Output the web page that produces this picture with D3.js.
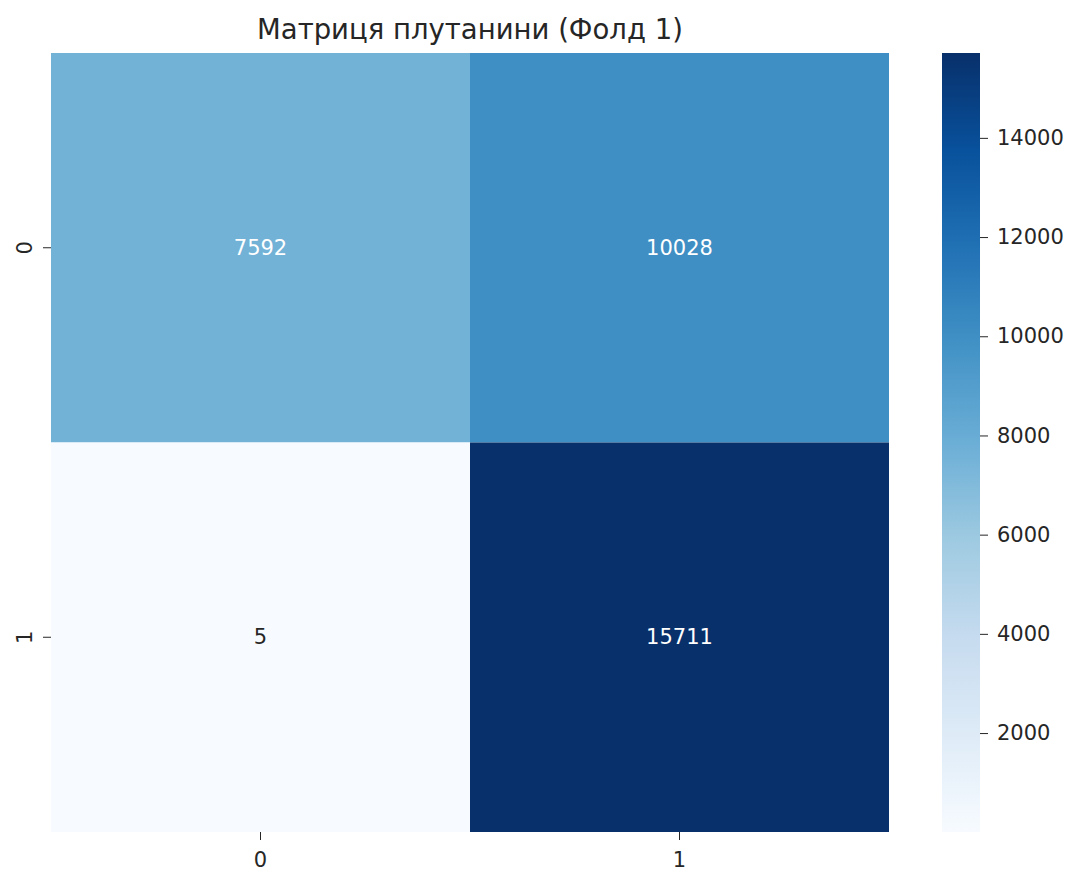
<!DOCTYPE html>
<html>
<head>
<meta charset="utf-8">
<script src="https://cdn.jsdelivr.net/npm/d3@7"></script>
<style>
  body { margin: 0; background: #fff; }
  svg text { font-family: "DejaVu Sans", sans-serif; fill: #262626; }
</style>
</head>
<body>
<div id="container"></div>
<script>
// confusion matrix, fold 1
const rowLabels = ["0", "1"];
const colLabels = ["0", "1"];
const counts = [
  [7592, 10028],
  [5, 15711]
];
const cbarTicks = [2000, 4000, 6000, 8000, 10000, 12000, 14000];
const title = "Матриця плутанини (Фолд 1)";

// matplotlib "Blues" anchors
const blues = ["#f7fbff", "#deebf7", "#c6dbef", "#9ecae1", "#6baed6",
               "#4292c6", "#2171b5", "#08519c", "#08306b"];

const W = 1074, H = 871;
const mLeft = 51, mRight = 889, mTop = 53, mBottom = 832;
const fs = "21px";

let svg = d3.select("#container")
  .append("svg")
  .attr("width", W)
  .attr("height", H);

let flat = counts.flat();
let vmin = d3.min(flat), vmax = d3.max(flat);

let color = d3.scaleLinear()
  .domain(d3.range(blues.length).map(i => vmin + (vmax - vmin) * i / (blues.length - 1)))
  .range(blues)
  .interpolate(d3.interpolateRgb);

// same rule seaborn uses to pick annotation colour
function luminance(c) {
  let rgb = d3.rgb(c);
  let lin = [rgb.r, rgb.g, rgb.b].map(v => {
    v = v / 255;
    return v <= 0.03928 ? v / 12.92 : Math.pow((v + 0.055) / 1.055, 2.4);
  });
  return 0.2126 * lin[0] + 0.7152 * lin[1] + 0.0722 * lin[2];
}

let x = d3.scaleBand().domain(colLabels).range([mLeft, mRight]);
let y = d3.scaleBand().domain(rowLabels).range([mTop, mBottom]);

let cells = [];
rowLabels.forEach((r, i) => colLabels.forEach((c, j) => cells.push({r: r, c: c, v: counts[i][j]})));

svg.selectAll("rect.cell").data(cells).enter().append("rect")
  .attr("class", "cell")
  .attr("x", d => x(d.c))
  .attr("y", d => y(d.r))
  .attr("width", x.bandwidth())
  .attr("height", y.bandwidth())
  .attr("fill", d => color(d.v));

svg.selectAll("text.annot").data(cells).enter().append("text")
  .attr("class", "annot")
  .attr("x", d => x(d.c) + x.bandwidth() / 2)
  .attr("y", d => y(d.r) + y.bandwidth() / 2)
  .attr("text-anchor", "middle")
  .attr("dominant-baseline", "central")
  .style("font-size", fs)
  .style("fill", d => luminance(color(d.v)) > 0.408 ? "#262626" : "#ffffff")
  .text(d => d.v);

// x axis
let xAxis = svg.append("g")
  .attr("transform", `translate(0,${mBottom})`)
  .call(d3.axisBottom(x).tickSize(8).tickPadding(12));
xAxis.select(".domain").remove();
xAxis.selectAll("text").style("font-size", fs).attr("fill", "#262626");
xAxis.selectAll("line").attr("stroke", "#262626");

// y axis, labels turned on their side
let yAxis = svg.append("g")
  .attr("transform", `translate(${mLeft},0)`)
  .call(d3.axisLeft(y).tickSize(8).tickPadding(6));
yAxis.select(".domain").remove();
yAxis.selectAll("line").attr("stroke", "#262626");
yAxis.selectAll("text")
  .style("font-size", fs)
  .attr("fill", "#262626")
  .attr("x", 0).attr("dy", 0)
  .attr("text-anchor", "middle")
  .attr("dominant-baseline", "auto")
  .attr("transform", "translate(-19,0) rotate(-90)");

// title
svg.append("text")
  .attr("x", (mLeft + mRight) / 2)
  .attr("y", 39)
  .attr("text-anchor", "middle")
  .style("font-size", "27.5px")
  .text(title);

// colorbar
const cbX = 942, cbW = 38;
let defs = svg.append("defs");
let grad = defs.append("linearGradient")
  .attr("id", "cbar")
  .attr("x1", 0).attr("y1", 1).attr("x2", 0).attr("y2", 0);
blues.forEach((b, i) => grad.append("stop")
  .attr("offset", i / (blues.length - 1))
  .attr("stop-color", b));

svg.append("rect")
  .attr("x", cbX).attr("y", mTop)
  .attr("width", cbW).attr("height", mBottom - mTop)
  .attr("fill", "url(#cbar)");

let cScale = d3.scaleLinear().domain([vmin, vmax]).range([mBottom, mTop]);
let cAxis = svg.append("g")
  .attr("transform", `translate(${cbX + cbW},0)`)
  .call(d3.axisRight(cScale).tickValues(cbarTicks).tickFormat(d3.format("d")).tickSize(8).tickPadding(9));
cAxis.select(".domain").remove();
cAxis.selectAll("line").attr("stroke", "#262626");
cAxis.selectAll("text").style("font-size", fs).attr("fill", "#262626");
</script>
</body>
</html>
